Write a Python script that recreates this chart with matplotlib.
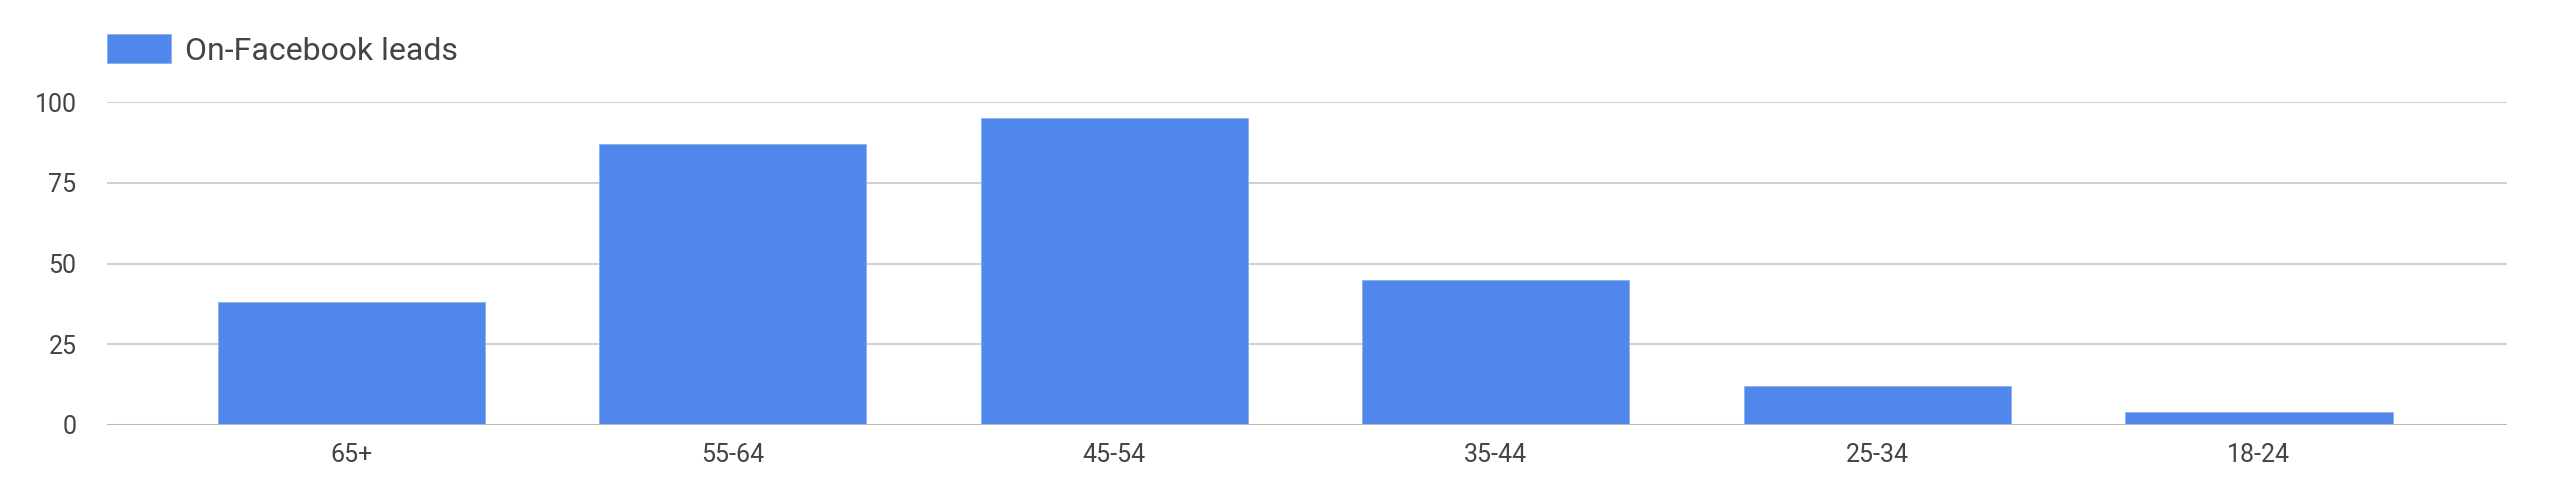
import numpy as np
import matplotlib.pyplot as plt

# data
age_groups = ['65+', '55-64', '45-54', '35-44', '25-34', '18-24']
leads = [38, 87, 95, 45, 12, 4]
series_name = 'On-Facebook leads'

bar_color = '#5087EC'
text_color = '#444444'

plt.rcParams['font.family'] = ['Roboto', 'DejaVu Sans']

fig = plt.figure(figsize=(25.52, 4.92), dpi=100)
ax = fig.add_axes([107/2552, 1 - 424.7/492, 2400/2552, (424.7 - 102.3)/492])

x = np.arange(len(age_groups))
ax.bar(x, leads, width=0.70, color=bar_color, edgecolor='#8fb2f2',
       linewidth=0.7, label=series_name, zorder=3)

ax.set_xlim(-0.64, len(age_groups) - 1 + 0.65)
ax.set_ylim(0, 100)
ax.set_yticks([0, 25, 50, 75, 100])
ax.set_xticks(x)
ax.set_xticklabels(age_groups)

# gridlines and baseline
for yv in [25, 50, 75, 100]:
    ax.axhline(yv, color='#cccccc', linewidth=1.3, zorder=1)
ax.axhline(0, color='#b7b7b7', linewidth=2.2, zorder=4)

for s in ax.spines.values():
    s.set_visible(False)
ax.tick_params(axis='both', length=0, labelsize=18, labelcolor=text_color)
ax.tick_params(axis='x', pad=13)
ax.tick_params(axis='y', pad=22)

fig.legend(loc='center left', bbox_to_anchor=(107/2552, 1 - 50/492),
           frameon=False, fontsize=23, labelcolor=text_color,
           handlelength=2.0, handleheight=1.0, handletextpad=0.45,
           borderpad=0, borderaxespad=0)

fig.savefig('out.png', dpi=100, facecolor='white')
